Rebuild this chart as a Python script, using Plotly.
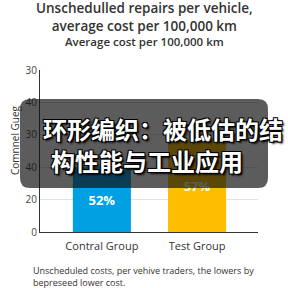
import plotly.graph_objects as go

# ---- data ----
categories = ["Contral Group", "Test Group"]
values = [20, 28.5]
bar_labels = ["52%", "57%"]
bar_colors = ["#00A0E3", "#FDBE00"]
tick_vals = [0, 10, 20, 30, 40, 50]
tick_text = ["0", "20", "40", "30", "40", "30"]

title_text = "Unschedulled repairs per vehicle,<br>average cost per 100,000 km"
subtitle_text = "Average cost per 100,000 km"
yaxis_title = "Comnnel Gueg"
footnote = "Unscheduled costs, per vehive traders, the lowers by<br>bepreseed lower cost."
overlay_lines = ["环形编织：被低估的结", "构性能与工业应用"]

W, H = 288, 288
ML, MR, MT, MB = 40, 30, 70, 56
PW, PH = W - ML - MR, H - MT - MB


def px(x):
    return (x - ML) / PW


def py(y):
    return (H - MB - y) / PH


fig = go.Figure()
fig.add_trace(go.Bar(
    x=categories, y=values, text=bar_labels,
    marker=dict(color=bar_colors, line=dict(width=0)),
    width=0.61,
    textposition="inside", insidetextanchor="middle",
    textfont=dict(family="Open Sans", size=13, color="white", weight="bold"),
    hoverinfo="skip",
))

# rounded dark overlay
hw, hh, r = 124, 44.5, 10
path = (f"M {-hw+r},{-hh} L {hw-r},{-hh} Q {hw},{-hh} {hw},{-hh+r} "
        f"L {hw},{hh-r} Q {hw},{hh} {hw-r},{hh} L {-hw+r},{hh} "
        f"Q {-hw},{hh} {-hw},{hh-r} L {-hw},{-hh+r} Q {-hw},{-hh} {-hw+r},{-hh} Z")
fig.add_shape(type="path", path=path, xref="paper", yref="paper",
              xsizemode="pixel", ysizemode="pixel",
              xanchor=px(144), yanchor=py(143.5),
              fillcolor="rgba(15,15,15,0.68)", line=dict(width=0), layer="above")

shadow = "2px 2px 2px rgba(0,0,0,0.9), -1px -1px 0 #000, 1px -1px 0 #000, -1px 1px 0 #000, 1px 1px 0 #000"
fig.add_annotation(text=overlay_lines[0], xref="paper", yref="paper",
                   x=px(41), y=py(128), xanchor="left", yanchor="middle", showarrow=False,
                   font=dict(family="Noto Sans CJK SC", size=24, color="white", weight="bold", shadow=shadow))
fig.add_annotation(text=overlay_lines[1], xref="paper", yref="paper",
                   x=px(49), y=py(160), xanchor="left", yanchor="middle", showarrow=False,
                   font=dict(family="Noto Sans CJK SC", size=24, color="white", weight="bold", shadow=shadow))

# title
fig.add_annotation(text=title_text, xref="paper", yref="paper",
                   x=px(144), y=py(17), xanchor="center", yanchor="middle", showarrow=False,
                   font=dict(family="Open Sans", size=13.5, color="#333", weight=600))
# subtitle
fig.add_annotation(text=subtitle_text, xref="paper", yref="paper",
                   x=px(144), y=py(41), xanchor="center", yanchor="middle", showarrow=False,
                   font=dict(family="Open Sans", size=11.5, color="#333", weight=600))
# y axis title
fig.add_annotation(text=yaxis_title, xref="paper", yref="paper", textangle=-90,
                   x=px(15), y=py(140), xanchor="center", yanchor="middle", showarrow=False,
                   font=dict(family="Open Sans", size=10, color="#333"))
# footnote
fig.add_annotation(text=footnote, xref="paper", yref="paper", align="left",
                   x=px(31), y=py(276), xanchor="left", yanchor="middle", showarrow=False,
                   font=dict(family="Open Sans", size=9, color="#333"))

fig.update_layout(
    width=W, height=H, margin=dict(l=ML, r=MR, t=MT, b=MB),
    paper_bgcolor="white", plot_bgcolor="white", showlegend=False,
    font=dict(family="Open Sans"),
)
fig.update_xaxes(range=[-0.65, 1.64], showline=True, linecolor="#333", linewidth=1.2, ticks="",
                 tickfont=dict(size=11, color="#333"), showgrid=False, ticklabelstandoff=4)
fig.update_yaxes(range=[0, 50], tickvals=tick_vals, ticktext=tick_text,
                 showline=True, linecolor="#333", linewidth=1.2, ticks="",
                 showgrid=True, gridcolor="#e2e2e2", gridwidth=1, zeroline=False,
                 tickfont=dict(size=10, color="#444"))

fig.write_html("out.html")
